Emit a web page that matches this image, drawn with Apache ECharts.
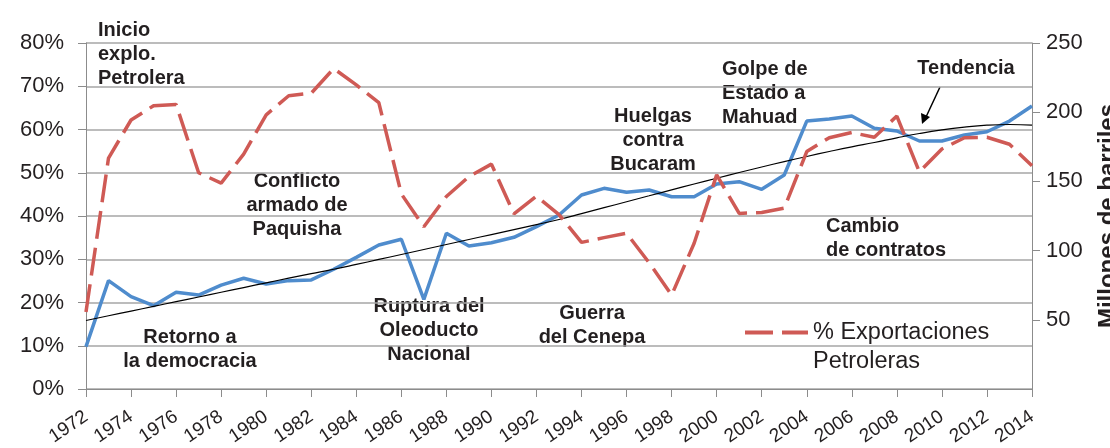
<!DOCTYPE html>
<html lang="es">
<head>
    <meta charset="UTF-8">
    <title>Exportaciones petroleras</title>
    <script src="https://cdn.jsdelivr.net/npm/echarts@6/dist/echarts.min.js"></script>
    <style>
        body { margin: 0; background: #fff; }
    </style>
</head>
<body>
    <div id="chart" style="width: 1110px; height: 448px"></div>
    <script type="text/javascript">
        // años 1972-2014
        let years = [];
        for (let y = 1972; y <= 2014; y++) years.push(String(y));

        // % exportaciones petroleras (eje izquierdo)
        let pctExport = [17.8, 53.4, 62.2, 65.5, 65.8, 50.0, 47.6, 54.3, 63.4, 67.8,
            68.4, 74.1, 70.3, 66.2, 45.1, 37.5, 44.5, 49.1, 52.0, 40.5,
            44.6, 40.3, 33.9, 35.0, 36.0, 29.2, 21.7, 33.7, 49.5, 40.6,
            40.8, 41.8, 54.9, 58.1, 59.3, 58.2, 63.1, 50.2, 55.5, 58.1,
            58.2, 56.6, 51.6];

        // millones de barriles exportados (eje derecho)
        let barrels = [30.6, 78.3, 66.7, 60.2, 69.9, 67.9, 75.1, 80.0, 75.9, 78.3,
            78.8, 86.5, 95.1, 104.0, 108.2, 64.8, 112.5, 103.3, 105.7, 109.6,
            117.3, 125.7, 140.2, 145.0, 142.1, 143.8, 138.9, 138.9, 148.1, 149.8,
            144.3, 154.6, 193.6, 195.1, 197.3, 188.4, 186.4, 179.2, 179.2, 183.5,
            185.9, 193.6, 204.5];

        // tendencia
        let trend = [49.5, 52.9, 56.3, 59.7, 63.1, 66.5, 69.9, 73.3, 76.7, 80.1,
            83.3, 86.5, 90.0, 93.6, 97.2, 100.8, 104.4, 108.0, 111.6, 115.2,
            118.8, 122.5, 126.7, 131.0, 135.3, 139.6, 143.9, 148.1, 152.3, 156.4,
            160.4, 164.3, 168.0, 171.6, 175.0, 178.1, 181.5, 184.6, 187.2, 189.2,
            190.6, 191.1, 190.6];

        let dark = '#231f20';
        let notes = [
            {text: 'Inicio\nexplo.\nPetrolera', x: 98, y: 54, align: 'left'},
            {text: 'Conflicto\narmado de\nPaquisha', x: 297, y: 205, align: 'center'},
            {text: 'Retorno a\nla democracia', x: 190, y: 349, align: 'center'},
            {text: 'Ruptura del\nOleoducto\nNacional', x: 429, y: 330, align: 'center'},
            {text: 'Guerra\ndel Cenepa', x: 592, y: 325, align: 'center'},
            {text: 'Huelgas\ncontra\nBucaram', x: 653, y: 140, align: 'center'},
            {text: 'Golpe de\nEstado a\nMahuad', x: 722, y: 93, align: 'left'},
            {text: 'Tendencia', x: 966, y: 68, align: 'center'},
            {text: 'Cambio\nde contratos', x: 826, y: 238, align: 'left'}
        ];

        let graphics = notes.map(n => ({
            type: 'text',
            x: n.x, y: n.y,
            style: {
                text: n.text,
                align: n.align,
                verticalAlign: 'middle',
                fill: dark,
                font: 'bold 20px "Liberation Sans", Arial, sans-serif',
                lineHeight: 24
            }
        }));
        // flecha de la tendencia
        graphics.push({type: 'line', shape: {x1: 940, y1: 87, x2: 926, y2: 117},
            style: {stroke: '#000', lineWidth: 1.5}});
        graphics.push({type: 'polygon', shape: {points: [[922, 124], [921, 113], [930, 117]]},
            style: {fill: '#000'}});

        let red = '#cf5a55';
        let blue = '#4f8ccd';
        let font = '"Liberation Sans", Arial, sans-serif';

        let myChart = echarts.init(document.getElementById('chart'));
        let option = {
            animation: false,
            textStyle: {fontFamily: font},
            grid: {left: 86, right: 78, top: 43, bottom: 59, outerBoundsMode: 'none', containLabel: false},
            legend: {
                data: [{
                    name: '% Exportaciones Petroleras',
                    icon: 'path://M0,0H28V4H0Z M37,0H63V4H37Z',
                    itemStyle: {color: red}
                }],
                left: 745, top: 289, padding: 0,
                itemWidth: 63, itemHeight: 4, itemGap: 5,
                // línea vacía arriba para que el icono quede junto a la primera línea
                formatter: () => ' \n% Exportaciones\nPetroleras',
                textStyle: {fontSize: 23.5, color: dark, lineHeight: 29, fontFamily: font}
            },
            xAxis: {
                type: 'category',
                data: years,
                boundaryGap: false,
                axisLine: {lineStyle: {color: '#8c8c8c', width: 1}},
                axisTick: {interval: 1, length: 8, lineStyle: {color: '#8c8c8c'}},
                axisLabel: {interval: 1, rotate: 34, fontSize: 19, color: dark, margin: 26, fontFamily: font}
            },
            yAxis: [
                {
                    type: 'value', min: 0, max: 80, interval: 10,
                    axisLine: {show: true, lineStyle: {color: '#8c8c8c'}},
                    axisTick: {show: true, length: 8, lineStyle: {color: '#8c8c8c'}},
                    axisLabel: {formatter: '{value}%', fontSize: 22, color: dark, margin: 22, fontFamily: font},
                    splitLine: {lineStyle: {color: '#a6a6a6', width: 1.5}}
                },
                {
                    type: 'value', min: 0, max: 250, interval: 50,
                    name: 'Millones de barriles',
                    nameLocation: 'middle', nameRotate: 90, nameGap: 64,
                    nameTextStyle: {fontSize: 24, fontWeight: 'bold', color: dark, fontFamily: font},
                    axisLine: {show: true, lineStyle: {color: '#8c8c8c'}},
                    axisTick: {show: true, length: 8, lineStyle: {color: '#8c8c8c'}},
                    axisLabel: {showMinLabel: false, fontSize: 22, color: dark, margin: 14, fontFamily: font},
                    splitLine: {show: false}
                }
            ],
            series: [
                {
                    name: 'Millones de barriles',
                    type: 'line', yAxisIndex: 1,
                    data: barrels, symbol: 'none',
                    lineStyle: {color: blue, width: 3.5},
                    itemStyle: {color: blue}
                },
                {
                    name: 'Tendencia',
                    type: 'line', yAxisIndex: 1, smooth: true,
                    data: trend, symbol: 'none',
                    lineStyle: {color: '#000', width: 1.2},
                    itemStyle: {color: '#000'}
                },
                {
                    name: '% Exportaciones Petroleras',
                    type: 'line', yAxisIndex: 0,
                    data: pctExport, symbol: 'none',
                    lineStyle: {color: red, width: 3.5, type: [28, 9]},
                    itemStyle: {color: red}
                }
            ],
            graphic: graphics
        };
        myChart.setOption(option);
    </script>
</body>
</html>
